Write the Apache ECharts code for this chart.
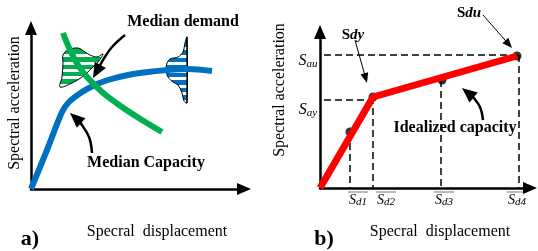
<!DOCTYPE html>
<html>
<head>
<meta charset="utf-8">
<script src="https://cdn.jsdelivr.net/npm/echarts@6/dist/echarts.min.js"></script>
<style>
  html, body { margin: 0; padding: 0; background: #fff; }
  #chart { width: 538px; height: 251px; }
</style>
</head>
<body>
<div id="chart"></div>
<script>
// panel a) values are measured from the axis origin
const capacityA = [[0, 0], [16, 39], [31, 77], [38, 87], [51, 97], [64, 104], [77, 109], [97, 114], [117, 117], [137, 119], [157, 120], [181, 118]];
const demandA = [[32, 156], [39, 139], [47, 124], [56, 112], [71, 97], [91, 82], [111, 69], [131, 57]];
const demandBlob = [[32, 134], [37, 139], [47, 141], [54, 137], [59, 134], [66, 132], [72, 135], [67, 127], [61, 121], [51, 112], [41, 106], [29, 102], [31, 112], [32, 126]];
const capacityBlob = [[156, 152], [154, 146], [152, 137], [147, 132], [139, 130], [136, 126], [135, 119], [137, 112], [142, 107], [147, 104], [151, 96], [153, 88], [156, 86]];
const capacityBlobEdge = [[156, 152], [156, 86]];
const demandArrow = [[94, 154], [81, 142], [72, 129], [62, 111]];
const capacityArrow = [[61, 36], [58, 52], [49, 67], [39, 76]];

// panel b)
const idealized = [[0, 0], [53, 91], [197, 132]];
const sdPoints = [[30, 56], [53, 91], [122, 108], [197, 132]];
const dashedB = [
  [[4, 133], [199, 133]],
  [[4, 88], [53, 88]],
  [[30, 56], [30, 0]],
  [[53, 91], [53, 0]],
  [[121, 108], [121, 0]],
  [[199, 133], [199, 0]]
];
const sdyArrow = [[35, 148], [47, 105]];
const sduArrow = [[163, 173], [192, 140]];
const capArrowB = [[163, 68], [160, 81], [153, 91], [142, 100]];
const sdLabels = ['d1', 'd2', 'd3', 'd4'];
const sdLabelX = [358, 386, 444, 517];

const serif = '"Liberation Serif", "Times New Roman", serif';
const BLUE = '#0070C0', GREEN = '#00B050', RED = '#FF0000';

const chart = echarts.init(document.getElementById('chart'), null, { renderer: 'canvas' });

function arrowShape(pts, api, o) {
  const p = pts.map((v) => api.coord(v));
  const tip = p[p.length - 1];
  const prev = p[p.length - 2];
  let dx = tip[0] - prev[0], dy = tip[1] - prev[1];
  const len = Math.hypot(dx, dy);
  dx /= len; dy /= len;
  const bx = tip[0] - dx * o.len, by = tip[1] - dy * o.len;
  const nx = -dy, ny = dx;
  const body = p.slice(0, -1).concat([[bx + dx, by + dy]]);
  return {
    type: 'group',
    children: [
      { type: 'polyline', shape: { points: body, smooth: o.smooth || 0 }, style: { stroke: '#000', lineWidth: o.width, fill: null } },
      {
        type: 'polygon',
        shape: { points: [tip, [bx + nx * o.head / 2, by + ny * o.head / 2], [bx - nx * o.head / 2, by - ny * o.head / 2]] },
        style: { fill: '#000' }
      }
    ]
  };
}

// striped (horizontal bands) distribution shape
function blobShape(outline, color, phase, api, smooth) {
  const p = outline.map((v) => api.coord(v));
  const ys = p.map((v) => v[1]);
  const y0 = Math.min(...ys), y1 = Math.max(...ys);
  const h = y1 - y0;
  const stops = [{ offset: 0, color: color }];
  for (let y = phase; y < h; y += 7.5) {
    const a = y / h, b = Math.min((y + 3) / h, 1);
    stops.push({ offset: a, color: color }, { offset: a, color: '#fff' }, { offset: b, color: '#fff' }, { offset: b, color: color });
  }
  stops.push({ offset: 1, color: color });
  return {
    type: 'polygon',
    shape: { points: p, smooth: smooth },
    style: { fill: new echarts.graphic.LinearGradient(0, y0, 0, y1, stops, true), stroke: '#000', lineWidth: 1 }
  };
}

function custom(grid, render) {
  return {
    type: 'custom',
    xAxisIndex: grid,
    yAxisIndex: grid,
    data: [[0, 0]],
    silent: true,
    renderItem: (params, api) => render(api)
  };
}

const axisLine = {
  show: true,
  symbol: ['none', 'triangle'],
  symbolSize: [12, 14],
  lineStyle: { color: '#000', width: 2.5 }
};
const bareAxis = (grid, max) => ({
  type: 'value',
  gridIndex: grid,
  min: 0,
  max: max,
  axisLine: axisLine,
  axisTick: { show: false },
  axisLabel: { show: false },
  splitLine: { show: false }
});

const txt = (x, y, text, size, weight, extra) => ({
  type: 'text',
  x: x,
  y: y,
  style: Object.assign({
    text: text,
    fontFamily: serif,
    fontSize: size,
    fontWeight: weight || 'normal',
    fill: '#000',
    align: 'center',
    verticalAlign: 'middle'
  }, extra || {})
});

const boldS = { a: { fontFamily: serif, fontSize: 15, fontWeight: 'bold' }, b: { fontFamily: serif, fontSize: 15, fontWeight: 'bold', fontStyle: 'italic' } };
const subS = { s: { fontFamily: serif, fontSize: 16, fontStyle: 'italic' }, b: { fontFamily: serif, fontSize: 11, fontStyle: 'italic', padding: [7, 0, 0, 0] } };

const graphics = [
  txt(183, 22, 'Median demand', 16, 'bold'),
  txt(146, 163, 'Median Capacity', 16, 'bold'),
  Object.assign(txt(15, 103, 'Spectral acceleration', 16), { rotation: Math.PI / 2 }),
  txt(157, 232, 'Specral  displacement', 16),
  txt(30, 239, 'a)', 22, 'bold'),
  Object.assign(txt(280, 90, 'Spectral acceleration', 16), { rotation: Math.PI / 2 }),
  txt(440, 232, 'Specral  displacement', 16),
  txt(324, 239, 'b)', 22, 'bold'),
  txt(455, 128, 'Idealized capacity', 16, 'bold'),
  txt(353, 35, '{a|S}{b|dy}', 15, 'bold', { rich: boldS }),
  txt(469, 13, '{a|S}{b|du}', 15, 'bold', { rich: boldS }),
  txt(308, 61, '{s|S}{b|au}', 15, 'normal', { rich: subS }),
  txt(308, 110, '{s|S}{b|ay}', 15, 'normal', { rich: subS })
];
sdLabels.forEach((s, i) => {
  graphics.push(txt(sdLabelX[i], 200, '{s|S}{b|' + s + '}', 14, 'normal', {
    rich: {
      s: { fontFamily: serif, fontSize: 14, fontStyle: 'italic', color: '#555' },
      b: { fontFamily: serif, fontSize: 11, fontStyle: 'italic', color: '#555', padding: [5, 0, 0, 0] }
    }
  }));
  graphics.push({ type: 'line', shape: { x1: sdLabelX[i] - 10, y1: 192, x2: sdLabelX[i] + 10, y2: 192 }, style: { stroke: '#777', lineWidth: 1 } });
});

const series = [
  { type: 'line', xAxisIndex: 0, yAxisIndex: 0, data: capacityA, smooth: 0.3, showSymbol: false, lineStyle: { color: BLUE, width: 6 }, silent: true },
  { type: 'line', xAxisIndex: 0, yAxisIndex: 0, data: demandA, smooth: 0.35, showSymbol: false, lineStyle: { color: GREEN, width: 6 }, silent: true },
  custom(0, (api) => blobShape(demandBlob, GREEN, 6, api, 0.35)),
  custom(0, (api) => ({
    type: 'group',
    children: [
      blobShape(capacityBlob, BLUE, 10.5, api, 0.3),
      { type: 'polyline', shape: { points: capacityBlobEdge.map((v) => api.coord(v)) }, style: { stroke: '#000', lineWidth: 1.3, fill: null } }
    ]
  })),
  custom(0, (api) => arrowShape(demandArrow, api, { len: 15, head: 13, width: 2.5, smooth: 0.4 })),
  custom(0, (api) => arrowShape(capacityArrow, api, { len: 15, head: 13, width: 2.5, smooth: 0.4 }))
];
dashedB.forEach((seg) => {
  series.push({
    type: 'line', xAxisIndex: 1, yAxisIndex: 1, data: seg, showSymbol: false, silent: true,
    lineStyle: { color: '#000', width: 1.5, type: [7, 4] }
  });
});
series.push(
  { type: 'line', xAxisIndex: 1, yAxisIndex: 1, data: idealized, showSymbol: false, silent: true, lineStyle: { color: RED, width: 7 } },
  { type: 'scatter', xAxisIndex: 1, yAxisIndex: 1, data: sdPoints, symbolSize: 9, itemStyle: { color: '#000' }, silent: true },
  custom(1, (api) => arrowShape(sdyArrow, api, { len: 10, head: 8, width: 1 })),
  custom(1, (api) => arrowShape(sduArrow, api, { len: 10, head: 8, width: 1 })),
  custom(1, (api) => arrowShape(capArrowB, api, { len: 15, head: 13, width: 2.5, smooth: 0.4 }))
);

chart.setOption({
  animation: false,
  backgroundColor: '#fff',
  grid: [
    { left: 31, top: 28, width: 213, height: 161 },
    { left: 320, top: 32, width: 210, height: 156 }
  ],
  xAxis: [bareAxis(0, 213), bareAxis(1, 210)],
  yAxis: [bareAxis(0, 161), bareAxis(1, 156)],
  series: series,
  graphic: graphics
});
</script>
</body>
</html>
